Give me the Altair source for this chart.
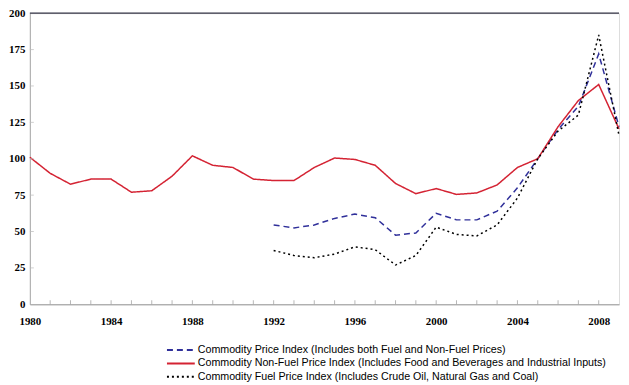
import altair as alt
import pandas as pd

years = list(range(1980, 2010))
years_short = list(range(1992, 2010))

nonfuel = [101, 90, 82.5, 86, 86, 77, 78, 88, 102, 95.5, 94, 86, 85, 85, 94,
           100.5, 99.5, 95.5, 83, 76, 79.5, 75.5, 76.5, 82, 94, 100, 122, 140, 151, 120.5]
price_index = [54.5, 52.5, 54.5, 59, 62, 59.5, 47.5, 49, 62.5, 58, 58, 64, 80,
               100, 120, 136, 172, 122]
fuel = [37, 33.5, 32, 34.5, 39.5, 37.5, 27, 33.5, 53, 48, 47, 54.5, 73,
        100, 119, 130, 185, 116]

names = [
    "Commodity Price Index (Includes both Fuel and Non-Fuel Prices)",
    "Commodity Non-Fuel Price Index (Includes Food and Beverages and Industrial Inputs)",
    "Commodity Fuel Price Index (Includes Crude Oil, Natural Gas and Coal)",
]
colors = ["#30309a", "#d42333", "#000000"]
dashes = [[6, 4], [1, 0], [2, 3]]

x_ticks = [1980, 1984, 1988, 1992, 1996, 2000, 2004, 2008]
y_ticks = [0, 25, 50, 75, 100, 125, 150, 175, 200]

rows = []
for y, v in zip(years_short, price_index):
    rows.append({"year": y, "value": v, "series": names[0]})
for y, v in zip(years, nonfuel):
    rows.append({"year": y, "value": v, "series": names[1]})
for y, v in zip(years_short, fuel):
    rows.append({"year": y, "value": v, "series": names[2]})
df = pd.DataFrame(rows)

xscale = alt.Scale(domain=[1980, 2009], nice=False, zero=False)
yscale = alt.Scale(domain=[0, 200], nice=False)

x_axis = alt.Axis(values=x_ticks, format="d", ticks=False, grid=False,
                  labelFont="Liberation Serif", labelFontWeight="bold",
                  labelFontSize=11, labelColor="#000", labelPadding=11,
                  domainColor="#999", labelFlush=False, labelOverlap=False)
y_axis = alt.Axis(values=y_ticks, ticks=False, grid=False,
                  labelFont="Liberation Serif", labelFontWeight="bold",
                  labelFontSize=11, labelColor="#000", labelPadding=5,
                  domainColor="#aaa", labelOverlap=False, labelFlush=False)

lines = alt.Chart(df).mark_line(strokeWidth=1.5).encode(
    x=alt.X("year:Q", scale=xscale, title=None, axis=x_axis),
    y=alt.Y("value:Q", scale=yscale, title=None, axis=y_axis),
    color=alt.Color("series:N", sort=names,
                    scale=alt.Scale(domain=names, range=colors),
                    legend=alt.Legend(title=None, orient="none", legendX=144, legendY=331,
                                      symbolType="M-2,0H2", symbolSize=196,
                                      symbolStrokeWidth=2, labelFont="Liberation Sans",
                                      labelFontSize=10.75, labelColor="#000",
                                      labelLimit=0, rowPadding=0.5, padding=0,
                                      labelOffset=9)),
    strokeDash=alt.StrokeDash("series:N", sort=names,
                              scale=alt.Scale(domain=names, range=dashes),
                              legend=None),
    detail="series:N",
)

top_rule = alt.Chart(pd.DataFrame({"v": [200]})).mark_rule(color="#333344", strokeWidth=1.2).encode(
    y=alt.Y("v:Q", scale=yscale, title=None, axis=y_axis)
)

xt = alt.Chart(pd.DataFrame({"year": years[1:-1]})).mark_tick(
    orient="vertical", size=4, yOffset=-2, color="#999", thickness=1
).encode(x=alt.X("year:Q", scale=xscale, title=None, axis=x_axis),
         y=alt.Y(datum=0, scale=yscale, title=None, axis=y_axis))

yt = alt.Chart(pd.DataFrame({"v": y_ticks[1:-1]})).mark_tick(
    orient="horizontal", size=4, xOffset=2, color="#bbb", thickness=1
).encode(y=alt.Y("v:Q", scale=yscale, title=None, axis=y_axis),
         x=alt.X(datum=1980, scale=xscale, title=None, axis=x_axis))

chart = alt.layer(lines, xt, yt, top_rule).properties(
    width=593, height=293,
    autosize=alt.AutoSizeParams(type="none"),
    padding={"left": 22, "top": 4, "right": 2, "bottom": 78},
).configure_view(stroke="#aaa").configure(background="white")

chart.save("out.html", embed_options={"renderer": "svg", "actions": False})
